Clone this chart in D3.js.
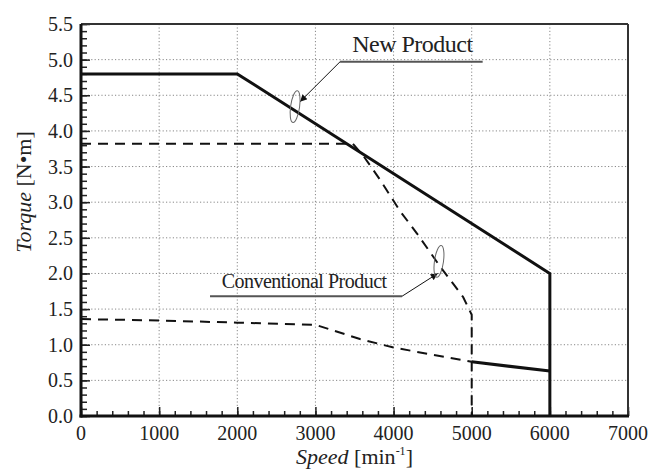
<!DOCTYPE html>
<html>
<head>
<meta charset="utf-8">
<script src="https://cdn.jsdelivr.net/npm/d3@7"></script>
<style>
  body { margin: 0; background: #fff; }
  .grid line { stroke: #888; stroke-width: 1; stroke-dasharray: 1.2,2.2; }
</style>
</head>
<body>
<svg id="chart" width="653" height="475"></svg>
<script>
// new product torque curve (speed, torque)
const newSpeed  = [0, 2000, 6000, 6000];
const newTorque = [4.8, 4.8, 2.0, 0.0];
const newLowSpeed  = [5000, 6000];
const newLowTorque = [0.76, 0.63];

// conventional product curves
const convSpeed  = [0, 3480, 3620, 3830, 4080, 4300, 4600, 4890, 5000, 5000];
const convTorque = [3.82, 3.82, 3.64, 3.31, 2.88, 2.56, 2.09, 1.67, 1.42, 0.0];
const convLowSpeed  = [0, 1000, 2000, 3000, 3570, 4000, 4500, 5000];
const convLowTorque = [1.36, 1.34, 1.31, 1.28, 1.08, 0.96, 0.86, 0.76];

const xTicks = [0, 1000, 2000, 3000, 4000, 5000, 6000, 7000];
const yTicks = [0.0, 0.5, 1.0, 1.5, 2.0, 2.5, 3.0, 3.5, 4.0, 4.5, 5.0, 5.5];

const FONT = '"Liberation Serif", Tinos, "Times New Roman", "DejaVu Serif", serif';

const svg = d3.select('#chart');
const pLeft = 81, pRight = 628, pTop = 24, pBottom = 416;

const x = d3.scaleLinear().domain([0, 7000]).range([pLeft, pRight]);
const y = d3.scaleLinear().domain([0, 5.5]).range([pBottom, pTop]);

const toPts = (xs, ys) => xs.map((v, i) => [v, ys[i]]);
const line = d3.line().x(d => x(d[0])).y(d => y(d[1]));

// grid
svg.append('g').attr('class', 'grid')
  .selectAll('line').data(xTicks.slice(1, -1)).enter().append('line')
  .attr('x1', d => x(d)).attr('x2', d => x(d))
  .attr('y1', pTop).attr('y2', pBottom);
svg.append('g').attr('class', 'grid')
  .selectAll('line').data(yTicks.slice(1, -1)).enter().append('line')
  .attr('x1', pLeft).attr('x2', pRight)
  .attr('y1', d => y(d)).attr('y2', d => y(d));

// axes with inward ticks
const xAxis = svg.append('g').attr('transform', `translate(0, ${pBottom})`);
xAxis.call(d3.axisTop(x).ticks(35).tickSize(5).tickFormat(''));
xAxis.selectAll('.domain').remove();
xAxis.selectAll('.tick line').attr('stroke', '#222').attr('stroke-width', 1.5);
const xAxisMaj = svg.append('g').attr('transform', `translate(0, ${pBottom})`);
xAxisMaj.call(d3.axisTop(x).tickValues(xTicks).tickSize(9).tickFormat(''));
xAxisMaj.selectAll('.domain').remove();
xAxisMaj.selectAll('.tick line').attr('stroke', '#222').attr('stroke-width', 1.5);

const yAxis = svg.append('g').attr('transform', `translate(${pLeft}, 0)`);
yAxis.call(d3.axisRight(y).ticks(55).tickSize(6).tickFormat(''));
yAxis.selectAll('.domain').remove();
yAxis.selectAll('.tick line').attr('stroke', '#222').attr('stroke-width', 1.5);
const yAxisMaj = svg.append('g').attr('transform', `translate(${pLeft}, 0)`);
yAxisMaj.call(d3.axisRight(y).tickValues(yTicks).tickSize(9).tickFormat(''));
yAxisMaj.selectAll('.domain').remove();
yAxisMaj.selectAll('.tick line').attr('stroke', '#222').attr('stroke-width', 1.5);

// frame
svg.append('line').attr('x1', pLeft).attr('x2', pRight).attr('y1', pTop).attr('y2', pTop)
  .attr('stroke', '#333').attr('stroke-width', 2);
svg.append('line').attr('x1', pRight).attr('x2', pRight).attr('y1', pTop).attr('y2', pBottom)
  .attr('stroke', '#333').attr('stroke-width', 2);
svg.append('line').attr('x1', pLeft).attr('x2', pLeft).attr('y1', pTop).attr('y2', pBottom + 1.5)
  .attr('stroke', '#111').attr('stroke-width', 3);
svg.append('line').attr('x1', pLeft - 1.5).attr('x2', pRight + 1).attr('y1', pBottom).attr('y2', pBottom)
  .attr('stroke', '#111').attr('stroke-width', 3);

// tick labels
svg.append('g').selectAll('text').data(xTicks).enter().append('text')
  .attr('x', d => x(d)).attr('y', pBottom + 24)
  .attr('text-anchor', 'middle').attr('font-size', 20)
  .attr('font-family', FONT).attr('fill', '#222')
  .text(d => d);
svg.append('g').selectAll('text').data(yTicks).enter().append('text')
  .attr('x', pLeft - 8).attr('y', d => y(d) + 7)
  .attr('text-anchor', 'end').attr('font-size', 20)
  .attr('font-family', FONT).attr('fill', '#222')
  .text(d => d.toFixed(1));

// data lines
svg.append('path').datum(toPts(convSpeed, convTorque)).attr('d', line)
  .attr('fill', 'none').attr('stroke', '#111').attr('stroke-width', 2)
  .attr('stroke-dasharray', '10,7');
svg.append('path').datum(toPts(convLowSpeed, convLowTorque)).attr('d', line)
  .attr('fill', 'none').attr('stroke', '#111').attr('stroke-width', 2)
  .attr('stroke-dasharray', '10,7');
svg.append('path').datum(toPts(newSpeed, newTorque)).attr('d', line)
  .attr('fill', 'none').attr('stroke', '#111').attr('stroke-width', 3);
svg.append('path').datum(toPts(newLowSpeed, newLowTorque)).attr('d', line)
  .attr('fill', 'none').attr('stroke', '#111').attr('stroke-width', 3);

// annotations
svg.append('defs').append('marker')
  .attr('id', 'arr').attr('viewBox', '0 0 10 10').attr('refX', 10).attr('refY', 5)
  .attr('markerWidth', 9).attr('markerHeight', 7).attr('orient', 'auto')
  .append('path').attr('d', 'M0,0 L10,5 L0,10 z').attr('fill', '#111');

const notes = [
  {label: 'New Product', size: 24, tx: 3470, ty: 5.11, u0: 3315, u1: 5140, uy: 4.97, ax: 2803, ay: 4.41, ex: 2740, ey: 4.34},
  {label: 'Conventional Product', size: 20, tx: 1800, ty: 1.79, u0: 1651, u1: 4108, uy: 1.68, ax: 4565, ay: 2.0, ex: 4581, ey: 2.17}
];
notes.forEach(n => {
  svg.append('text').attr('x', x(n.tx)).attr('y', y(n.ty))
    .attr('font-size', n.size).attr('font-family', FONT).attr('fill', '#222')
    .style('letter-spacing', '-0.5px').text(n.label);
  const lineStart = n.label === 'New Product' ? n.u0 : n.u1;
  svg.append('line').attr('x1', x(n.u0)).attr('x2', x(n.u1))
    .attr('y1', y(n.uy)).attr('y2', y(n.uy))
    .attr('stroke', '#555').attr('stroke-width', 2);
  svg.append('line').attr('x1', x(lineStart)).attr('y1', y(n.uy))
    .attr('x2', x(n.ax)).attr('y2', y(n.ay))
    .attr('stroke', '#111').attr('stroke-width', 1)
    .attr('marker-end', 'url(#arr)');
  svg.append('ellipse').attr('cx', x(n.ex)).attr('cy', y(n.ey))
    .attr('rx', 4.5).attr('ry', 16)
    .attr('transform', `rotate(8, ${x(n.ex)}, ${y(n.ey)})`)
    .attr('fill', 'none').attr('stroke', '#666').attr('stroke-width', 1);
});

// axis titles
const xt = svg.append('text').attr('x', x(3500)).attr('y', 464)
  .attr('text-anchor', 'middle').attr('font-size', 22)
  .attr('font-family', FONT).attr('fill', '#222');
xt.append('tspan').attr('font-style', 'italic').text('Speed');
xt.append('tspan').text(' [min');
xt.append('tspan').attr('font-size', 12).attr('dy', -9).text('-1');
xt.append('tspan').attr('dy', 9).text(']');

const yt = svg.append('text')
  .attr('transform', `translate(31, 192) rotate(-90)`)
  .attr('text-anchor', 'middle').attr('font-size', 22)
  .attr('font-family', FONT).attr('fill', '#222');
yt.append('tspan').attr('font-style', 'italic').text('Torque');
yt.append('tspan').text(' [N\u2022m]');
</script>
</body>
</html>
